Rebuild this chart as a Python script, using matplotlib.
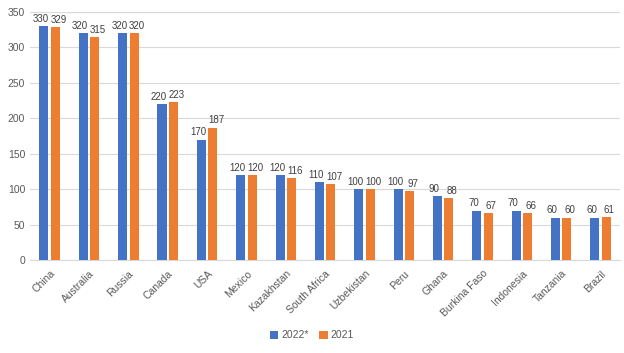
import matplotlib
matplotlib.use("Agg")
import matplotlib.pyplot as plt
import numpy as np

countries = ["China", "Australia", "Russia", "Canada", "USA", "Mexico", "Kazakhstan",
             "South Africa", "Uzbekistan", "Peru", "Ghana", "Burkina Faso", "Indonesia",
             "Tanzania", "Brazil"]
v2022 = [330, 320, 320, 220, 170, 120, 120, 110, 100, 100, 90, 70, 70, 60, 60]
v2021 = [329, 315, 320, 223, 187, 120, 116, 107, 100, 97, 88, 67, 66, 60, 61]
series_names = ["2022*", "2021"]
yticks = [0, 50, 100, 150, 200, 250, 300, 350]

plt.rcParams['font.family'] = ['Liberation Sans', 'DejaVu Sans']
label_font = ['Liberation Sans Narrow', 'Liberation Sans', 'DejaVu Sans']

fig = plt.figure(figsize=(6.24, 3.53), dpi=100)
ax = fig.add_axes([0.048, 0.263, 0.946, 0.703])

x = np.arange(len(countries))
w = 0.23
off = 0.145
b1 = ax.bar(x - off, v2022, w, color="#4472C4", label=series_names[0], zorder=3)
b2 = ax.bar(x + off, v2021, w, color="#ED7D31", label=series_names[1], zorder=3)

for rects, vals, dx in ((b1, v2022, -0.08), (b2, v2021, 0.08)):
    for r, v in zip(rects, vals):
        ax.text(r.get_x() + r.get_width() / 2 + dx, v + 3, str(v), ha="center", va="bottom",
                fontsize=7, color="#404040", family=label_font)

ax.set_xlim(-0.5, len(countries) - 0.5)
ax.set_ylim(0, 350)
ax.set_yticks(yticks)
ax.yaxis.grid(True, color="#D9D9D9", linewidth=0.8, zorder=0)
ax.set_axisbelow(True)
for s in ["top", "right", "left"]:
    ax.spines[s].set_visible(False)
ax.spines["bottom"].set_color("#D9D9D9")
ax.tick_params(axis="both", length=0, labelsize=7.5, colors="#595959")
ax.set_xticks(x)
ax.set_xticklabels(countries, rotation=45, ha="right", rotation_mode="anchor")
ax.tick_params(axis="x", pad=6)

fig.legend(handles=[b1, b2], labels=series_names, loc="center", bbox_to_anchor=(0.5, 0.05),
           ncol=2, frameon=False, fontsize=7.5, handlelength=0.8, handleheight=0.8,
           handletextpad=0.3, columnspacing=1.0, labelcolor="#595959")

fig.savefig("out.png", dpi=100)
